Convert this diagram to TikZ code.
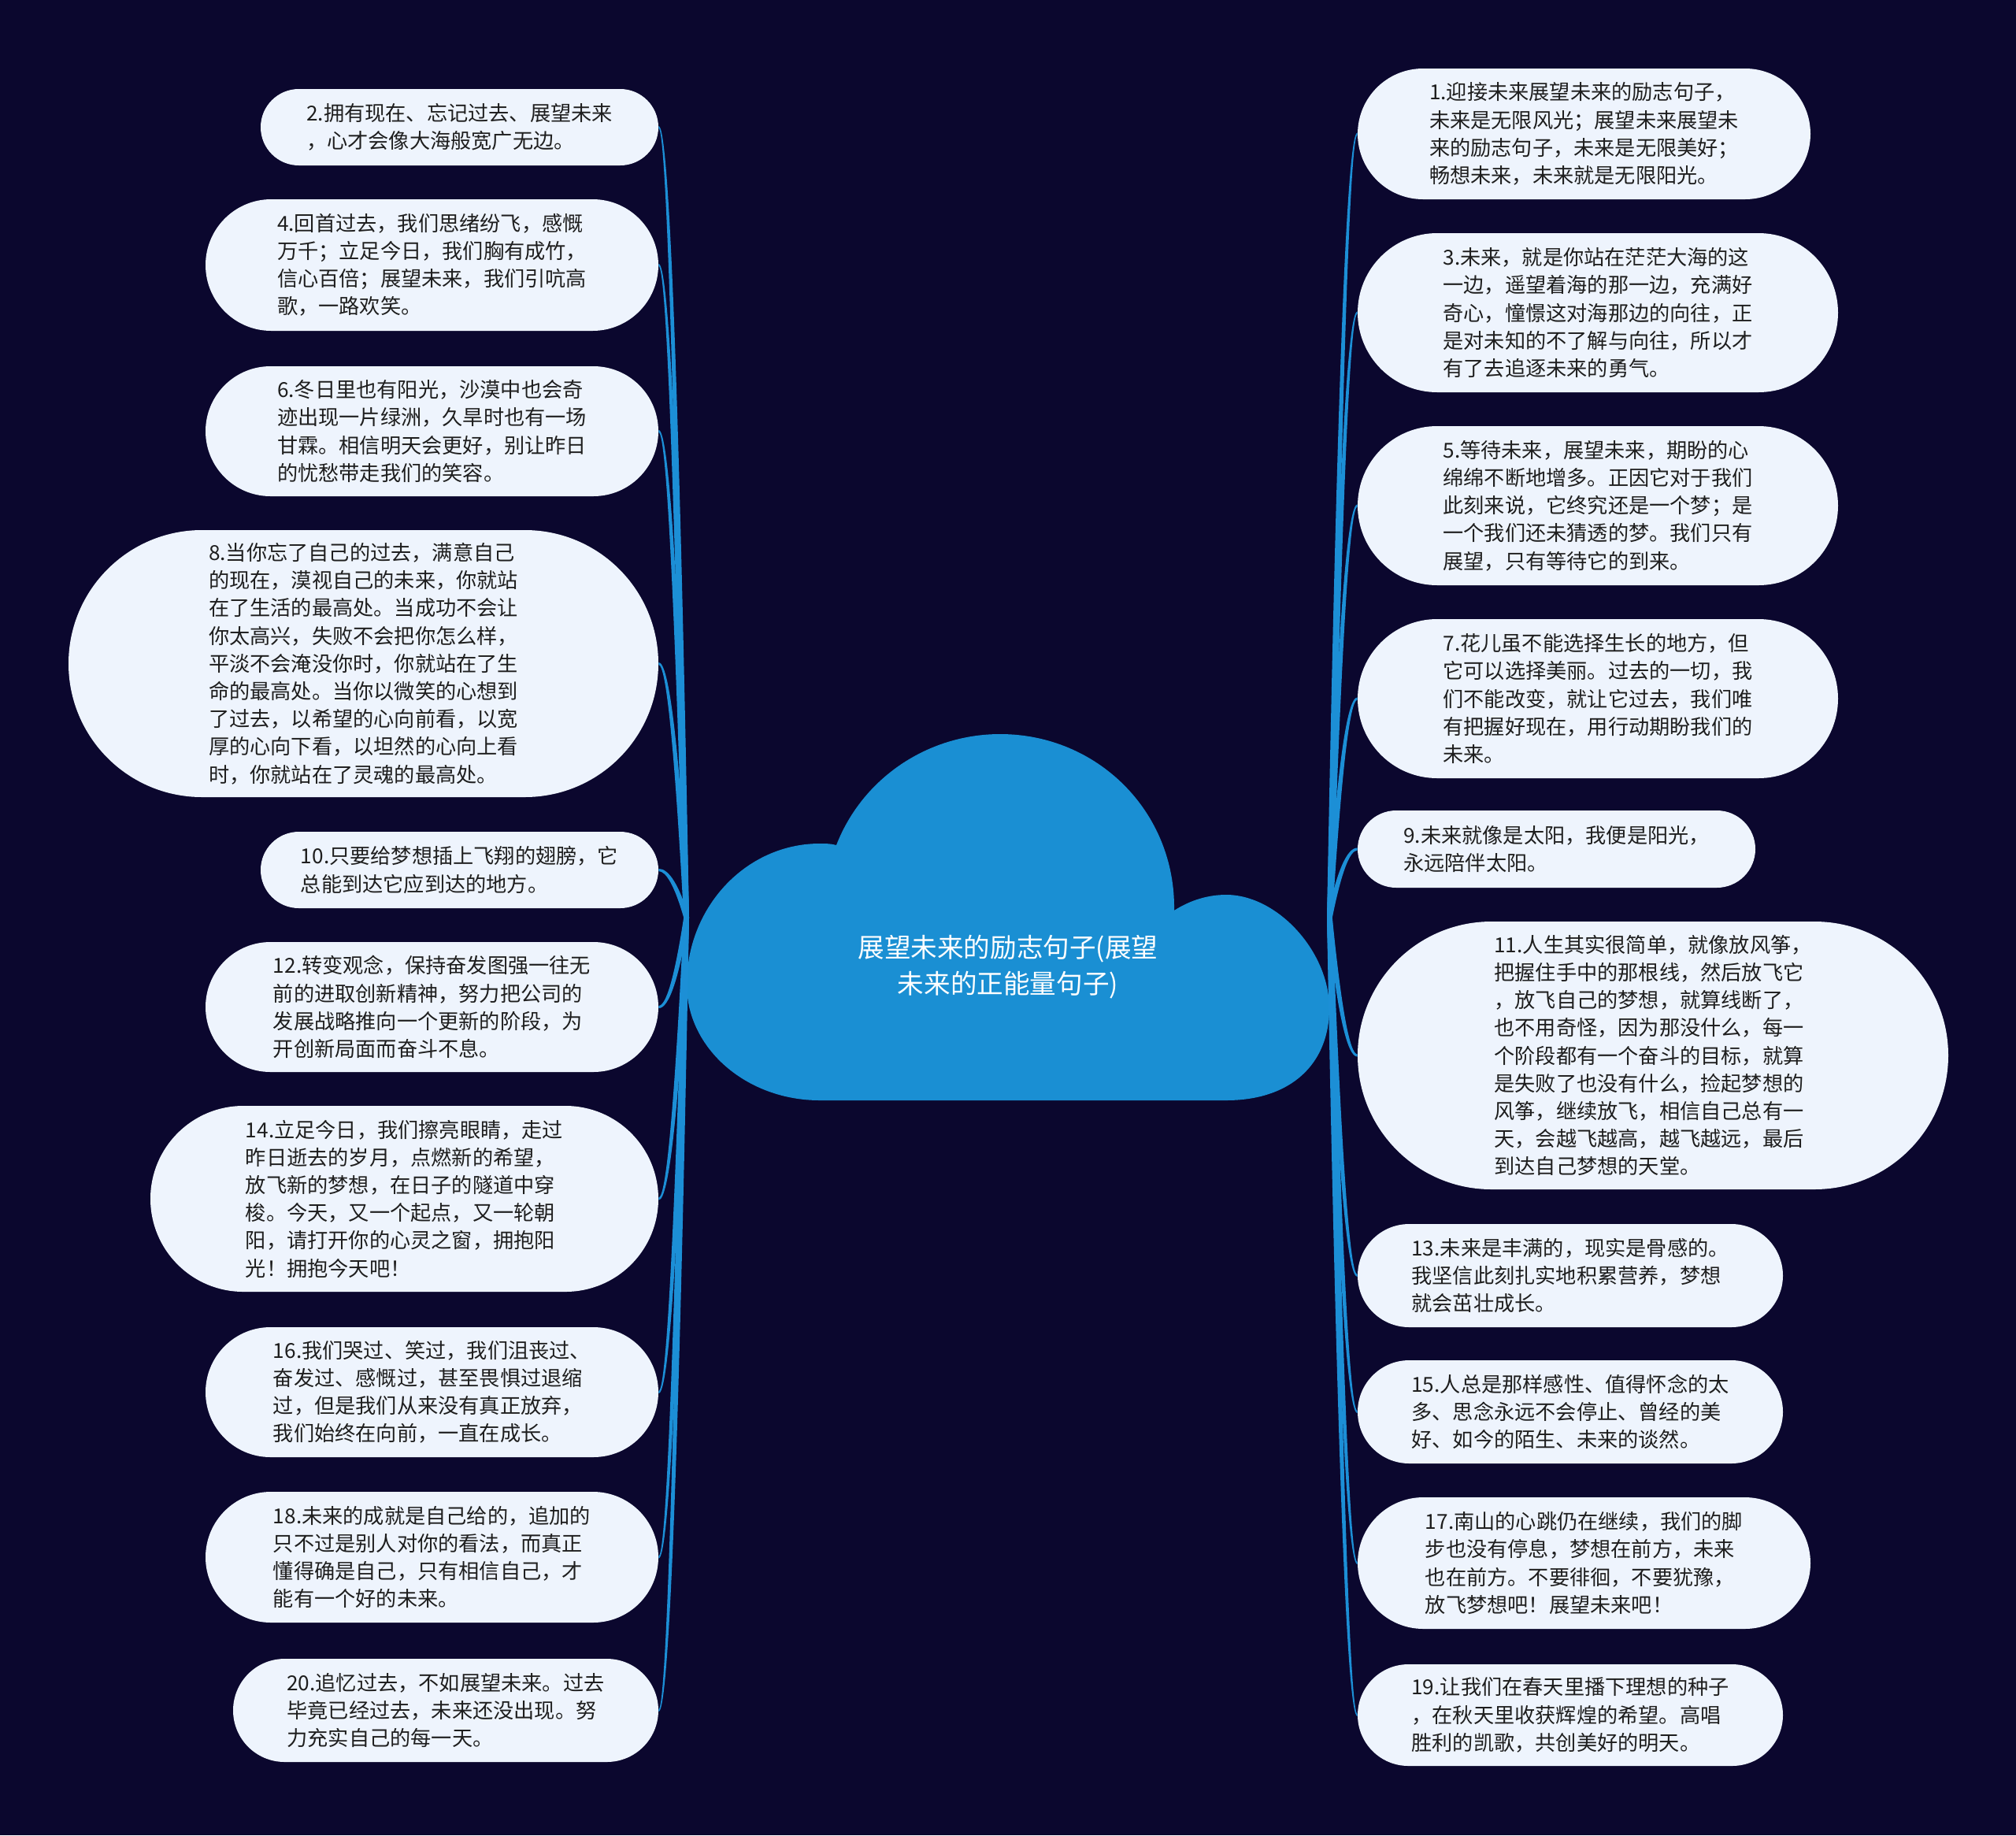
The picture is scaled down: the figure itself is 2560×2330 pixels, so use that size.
\documentclass[tikz,border=0pt]{standalone}
\usepackage{fontspec}
\setmainfont{Noto Sans CJK SC}
\usetikzlibrary{calc}
\definecolor{bgcol}{HTML}{0B072E}
\definecolor{leaffill}{HTML}{EEF4FD}
\definecolor{conncol}{HTML}{1C8FD6}
\definecolor{cloudcol}{HTML}{1A8FD3}
\definecolor{txtcol}{HTML}{1E1E1E}
\tikzset{
  leaf/.style={draw=none, fill=leaffill, text=txtcol, align=left, inner sep=0pt,
    font=\fontsize{13.1pt}{17.6pt}\selectfont},
  conn/.style={fill=conncol, draw=none},
  titletext/.style={text=white, align=center, inner sep=0pt,
    font=\fontsize{16.8pt}{23pt}\selectfont},
}
% name, cx, cy (px), width, height, radius (pt), text
\newcommand\leafnode[7]{\node[leaf, minimum width=#4pt, minimum height=#5pt, rounded corners=#6pt] (#1) at (#2,#3) {#7};}
% tapered curved connectors from the cloud's side points to a leaf
\newcommand\lconn[1]{\fill[conn] let \p1=(root.west), \p2=(#1.east), \n1={(\y2>\y1)*2-1} in
  ({\x1-1.7pt},\y1) .. controls ({\x1-7.5pt},{(\y1+2*\y2)/3}) and ({(\x2+2*\x1-18pt)/3-1pt},{\y2-(\n1)*0.8pt}) .. (\x2,{\y2-(\n1)*0.8pt})
  -- (\x2,{\y2+(\n1)*0.8pt}) .. controls ({(\x2+2*\x1-18pt)/3+1pt},{\y2+(\n1)*0.8pt}) and ({\x1-4.5pt},{(\y1+2*\y2)/3}) .. ({\x1+1.7pt},\y1) -- cycle;}
\newcommand\rconn[1]{\fill[conn] let \p1=(root.east), \p2=(#1.west), \n1={(\y2>\y1)*2-1} in
  ({\x1+1.7pt},\y1) .. controls ({\x1+7.5pt},{(\y1+2*\y2)/3}) and ({(\x2+2*\x1+18pt)/3+1pt},{\y2-(\n1)*0.8pt}) .. (\x2,{\y2-(\n1)*0.8pt})
  -- (\x2,{\y2+(\n1)*0.8pt}) .. controls ({(\x2+2*\x1+18pt)/3-1pt},{\y2+(\n1)*0.8pt}) and ({\x1+4.5pt},{(\y1+2*\y2)/3}) .. ({\x1-1.7pt},\y1) -- cycle;}
\begin{document}
\begin{tikzpicture}[x=0.5pt, y=-0.5pt]
\useasboundingbox (0,0) rectangle (2560,2330);
\fill[bgcol] (0,0) rectangle (2560,2330);

% central cloud
\fill[cloudcol] (1041,1397) -- (1557,1397)
  .. controls (1638,1397) and (1688,1352) .. (1688,1280)
  .. controls (1688,1208) and (1622,1136) .. (1557,1136)
  .. controls (1534,1136) and (1511,1143) .. (1491,1156)
  .. controls (1493,1030) and (1393,932) .. (1270,932)
  .. controls (1178,932) and (1095,988) .. (1062,1073)
  .. controls (1055,1071) and (1048,1071) .. (1041,1071)
  .. controls (948,1071) and (872,1151) .. (872,1250)
  .. controls (872,1331) and (948,1397) .. (1041,1397) -- cycle;
\node[minimum width=408pt, minimum height=232.5pt, inner sep=0pt] (root) at (1280,1165) {};
\node[titletext] (ttl) at (1280,1228) {展望未来的励志句子(展望\\未来的正能量句子)};

% left branches
\leafnode{n2}{583.5}{161.5}{252.5}{48.5}{24.25}{2.拥有现在、忘记过去、展望未来\\，心才会像大海般宽广无边。}
\leafnode{n4}{548.5}{336.5}{287.5}{83.5}{41.75}{4.回首过去，我们思绪纷飞，感慨\\万千；立足今日，我们胸有成竹，\\信心百倍；展望未来，我们引吭高\\歌，一路欢笑。}
\leafnode{n6}{548.5}{547.5}{287.5}{82.5}{41.25}{6.冬日里也有阳光，沙漠中也会奇\\迹出现一片绿洲，久旱时也有一场\\甘霖。相信明天会更好，别让昨日\\的忧愁带走我们的笑容。}
\leafnode{n8}{461.5}{842.5}{374.5}{169.5}{84.75}{8.当你忘了自己的过去，满意自己\\的现在，漠视自己的未来，你就站\\在了生活的最高处。当成功不会让\\你太高兴，失败不会把你怎么样，\\平淡不会淹没你时，你就站在了生\\命的最高处。当你以微笑的心想到\\了过去，以希望的心向前看，以宽\\厚的心向下看，以坦然的心向上看\\时，你就站在了灵魂的最高处。}
\leafnode{n10}{583.5}{1104.5}{252.5}{48.5}{24.25}{10.只要给梦想插上飞翔的翅膀，它\\总能到达它应到达的地方。}
\leafnode{n12}{548.5}{1278.5}{287.5}{82.5}{41.25}{12.转变观念，保持奋发图强一往无\\前的进取创新精神，努力把公司的\\发展战略推向一个更新的阶段，为\\开创新局面而奋斗不息。}
\leafnode{n14}{513.5}{1522}{322.5}{118}{59}{14.立足今日，我们擦亮眼睛，走过\\昨日逝去的岁月，点燃新的希望，\\放飞新的梦想，在日子的隧道中穿\\梭。今天，又一个起点，又一轮朝\\阳，请打开你的心灵之窗，拥抱阳\\光！拥抱今天吧！}
\leafnode{n16}{548.5}{1767.5}{287.5}{82.5}{41.25}{16.我们哭过、笑过，我们沮丧过、\\奋发过、感慨过，甚至畏惧过退缩\\过，但是我们从来没有真正放弃，\\我们始终在向前，一直在成长。}
\leafnode{n18}{548.5}{1977}{287.5}{83}{41.5}{18.未来的成就是自己给的，追加的\\只不过是别人对你的看法，而真正\\懂得确是自己，只有相信自己，才\\能有一个好的未来。}
\leafnode{n20}{566}{2171.5}{270}{65.5}{32.75}{20.追忆过去，不如展望未来。过去\\毕竟已经过去，未来还没出现。努\\力充实自己的每一天。}

% right branches
\leafnode{n1}{2011.5}{170}{287.5}{83}{41.5}{1.迎接未来展望未来的励志句子，\\未来是无限风光；展望未来展望未\\来的励志句子，未来是无限美好；\\畅想未来，未来就是无限阳光。}
\leafnode{n3}{2029}{397}{305}{101}{50.5}{3.未来，就是你站在茫茫大海的这\\一边，遥望着海的那一边，充满好\\奇心，憧憬这对海那边的向往，正\\是对未知的不了解与向往，所以才\\有了去追逐未来的勇气。}
\leafnode{n5}{2029}{642}{305}{101}{50.5}{5.等待未来，展望未来，期盼的心\\绵绵不断地增多。正因它对于我们\\此刻来说，它终究还是一个梦；是\\一个我们还未猜透的梦。我们只有\\展望，只有等待它的到来。}
\leafnode{n7}{2029}{887}{305}{101}{50.5}{7.花儿虽不能选择生长的地方，但\\它可以选择美丽。过去的一切，我\\们不能改变，就让它过去，我们唯\\有把握好现在，用行动期盼我们的\\未来。}
\leafnode{n9}{1976.5}{1078}{252.5}{49}{24.5}{9.未来就像是太阳，我便是阳光，\\永远陪伴太阳。}
\leafnode{n11}{2099}{1340}{375}{170}{85}{11.人生其实很简单，就像放风筝，\\把握住手中的那根线，然后放飞它\\，放飞自己的梦想，就算线断了，\\也不用奇怪，因为那没什么，每一\\个阶段都有一个奋斗的目标，就算\\是失败了也没有什么，捡起梦想的\\风筝，继续放飞，相信自己总有一\\天，会越飞越高，越飞越远，最后\\到达自己梦想的天堂。}
\leafnode{n13}{1994}{1619.5}{270}{65.5}{32.75}{13.未来是丰满的，现实是骨感的。\\我坚信此刻扎实地积累营养，梦想\\就会茁壮成长。}
\leafnode{n15}{1994}{1792.5}{270}{65.5}{32.75}{15.人总是那样感性、值得怀念的太\\多、思念永远不会停止、曾经的美\\好、如今的陌生、未来的谈然。}
\leafnode{n17}{2011.5}{1984.5}{287.5}{83.5}{41.75}{17.南山的心跳仍在继续，我们的脚\\步也没有停息，梦想在前方，未来\\也在前方。不要徘徊，不要犹豫，\\放飞梦想吧！展望未来吧！}
\leafnode{n19}{1994}{2177.5}{270}{64.5}{32.25}{19.让我们在春天里播下理想的种子\\，在秋天里收获辉煌的希望。高唱\\胜利的凯歌，共创美好的明天。}

% connectors
\lconn{n2}\lconn{n4}\lconn{n6}\lconn{n8}\lconn{n10}
\lconn{n12}\lconn{n14}\lconn{n16}\lconn{n18}\lconn{n20}
\rconn{n1}\rconn{n3}\rconn{n5}\rconn{n7}\rconn{n9}
\rconn{n11}\rconn{n13}\rconn{n15}\rconn{n17}\rconn{n19}
\end{tikzpicture}
\end{document}
